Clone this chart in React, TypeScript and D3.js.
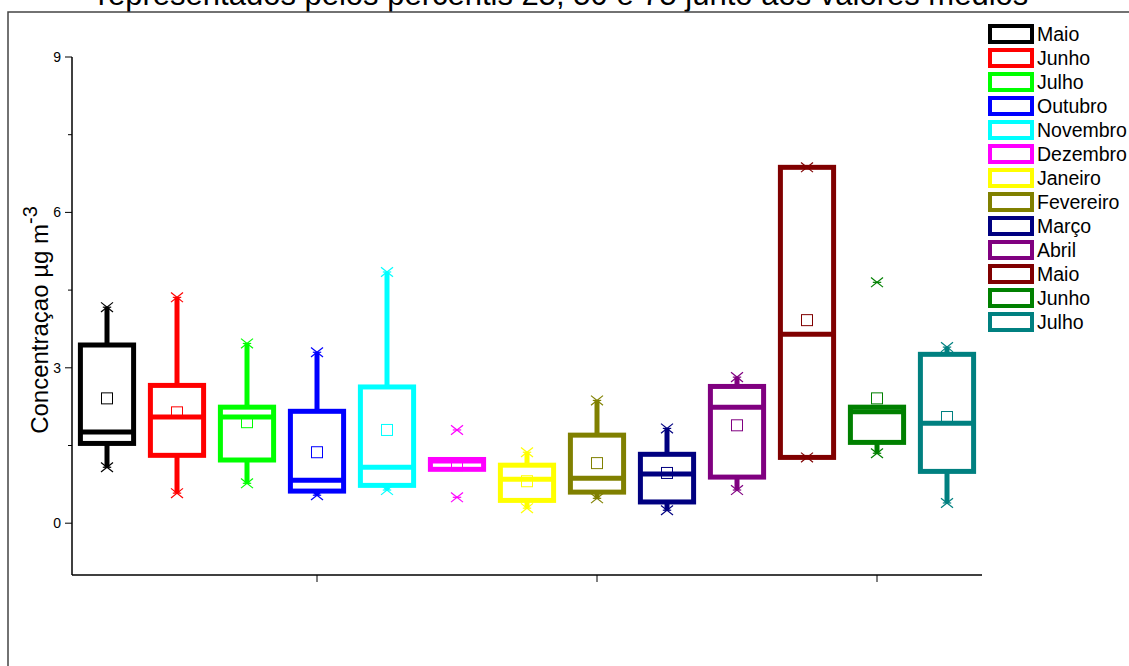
import * as d3 from "d3"

// monthly box data (µg m-3)
const months = ["Maio", "Junho", "Julho", "Outubro", "Novembro", "Dezembro", "Janeiro", "Fevereiro", "Março", "Abril", "Maio", "Junho", "Julho"]
const colors = ["#000000", "#FF0000", "#00FF00", "#0000FF", "#00FFFF", "#FF00FF", "#FFFF00", "#808000", "#000080", "#800080", "#800000", "#008000", "#008080"]
const q1 = [1.54, 1.31, 1.22, 0.62, 0.73, 1.04, 0.44, 0.6, 0.41, 0.89, 1.27, 1.56, 1.0]
const median = [1.76, 2.05, 2.05, 0.83, 1.08, 1.2, 0.85, 0.87, 0.95, 2.24, 3.65, 2.15, 1.93]
const q3 = [3.44, 2.66, 2.24, 2.16, 2.63, 1.23, 1.12, 1.7, 1.33, 2.64, 6.87, 2.24, 3.26]
const means = [2.41, 2.14, 1.95, 1.37, 1.8, 1.12, 0.81, 1.16, 0.97, 1.89, 3.92, 2.41, 2.05]
const whiskerHigh = [4.17, 4.36, 3.47, 3.3, 4.85, 1.23, 1.37, 2.37, 1.83, 2.82, 6.87, 2.24, 3.4]
const whiskerLow = [1.08, 0.58, 0.77, 0.54, 0.64, 1.04, 0.29, 0.48, 0.25, 0.64, 1.27, 1.35, 0.39]
const maxVals = [4.17, 4.36, 3.47, 3.3, 4.85, 1.8, 1.37, 2.37, 1.83, 2.82, 6.87, 4.65, 3.4]
const minVals = [1.08, 0.58, 0.77, 0.54, 0.64, 0.5, 0.29, 0.48, 0.25, 0.64, 1.27, 1.35, 0.39]
const yTicks = [0, 3, 6, 9]
const yMinorTicks = [1.5, 4.5, 7.5]
const xTicks = [4, 8, 12]

const title = "representados pelos percentis 25, 50 e 75 junto aos valores médios"
const FONT = "Arial, 'Liberation Sans', sans-serif"

function Star({ cx, cy, color }: { cx: number; cy: number; color: string }) {
  const s = 6
  return (
    <g stroke={color} strokeWidth={1.2}>
      <line x1={cx - s} y1={cy - s * 0.8} x2={cx + s} y2={cy + s * 0.8} />
      <line x1={cx - s} y1={cy + s * 0.8} x2={cx + s} y2={cy - s * 0.8} />
      <line x1={cx - s * 0.7} y1={cy} x2={cx + s * 0.7} y2={cy} />
    </g>
  )
}

export default function App() {
  const W = 1129
  const H = 666
  const x = d3.scaleLinear().domain([0.5, 13.5]).range([72, 982])
  const y = d3.scaleLinear().domain([-1, 9]).range([575, 57])
  const boxW = (x(1.76) - x(1)) // ~0.76 of a slot
  const lw = 5

  return (
    <svg width={W} height={H} style={{ position: "absolute", left: 0, top: 0, background: "#fff" }} fontFamily={FONT}>
      <rect x={0} y={0} width={W} height={H} fill="#fff" />
      {/* title is cropped at the top edge, as in the original export */}
      <text x={563} y={5} fontSize={31} textAnchor="middle" fill="#000">{title}</text>
      <rect x={8} y={12} width={W + 20} height={H + 20} fill="none" stroke="#444" strokeWidth={1.5} />

      {/* axes */}
      <line x1={x.range()[0]} x2={x.range()[0]} y1={y(9)} y2={y.range()[0]} stroke="#000" strokeWidth={1.5} />
      <line x1={x.range()[0]} x2={x.range()[1]} y1={y.range()[0]} y2={y.range()[0]} stroke="#000" strokeWidth={1.5} />
      {yTicks.map(t => (
        <g key={"yt" + t}>
          <line x1={x.range()[0] - 7} x2={x.range()[0]} y1={y(t)} y2={y(t)} stroke="#000" strokeWidth={1} />
          <text x={61} y={y(t)} dy="0.35em" textAnchor="end" fontSize={14}>{t}</text>
        </g>
      ))}
      {yMinorTicks.map(t => (
        <line key={"ym" + t} x1={x.range()[0] - 4} x2={x.range()[0]} y1={y(t)} y2={y(t)} stroke="#000" strokeWidth={1} />
      ))}
      {xTicks.map(t => (
        <line key={"xt" + t} x1={x(t)} x2={x(t)} y1={y.range()[0]} y2={y.range()[0] + 7} stroke="#000" strokeWidth={1} />
      ))}
      <text transform={`translate(48,${(y(-1) + y(9)) / 2 + 4}) rotate(-90)`} textAnchor="middle" fontSize={24}>
        Concentraçao µg m<tspan dy={-11} fontSize={20}>-3</tspan>
      </text>

      {/* boxes */}
      {months.map((m, i) => {
        const cx = x(i + 1)
        const c = colors[i]
        return (
          <g key={"b" + i}>
            {whiskerHigh[i] > q3[i] && (
              <line x1={cx} x2={cx} y1={y(q3[i])} y2={y(whiskerHigh[i])} stroke={c} strokeWidth={lw} />
            )}
            {whiskerLow[i] < q1[i] && (
              <line x1={cx} x2={cx} y1={y(q1[i])} y2={y(whiskerLow[i])} stroke={c} strokeWidth={lw} />
            )}
            <rect x={cx - boxW / 2} y={y(q3[i])} width={boxW} height={y(q1[i]) - y(q3[i])}
              fill="none" stroke={c} strokeWidth={lw} />
            <line x1={cx - boxW / 2} x2={cx + boxW / 2} y1={y(median[i])} y2={y(median[i])} stroke={c} strokeWidth={lw} />
            <rect x={cx - 5.5} y={y(means[i]) - 5.5} width={11} height={11} fill="none" stroke={c} strokeWidth={1} />
            <Star cx={cx} cy={y(maxVals[i])} color={c} />
            <Star cx={cx} cy={y(minVals[i])} color={c} />
          </g>
        )
      })}

      {/* legend */}
      {months.map((m, i) => (
        <g key={"l" + i} transform={`translate(990,${34 + 24 * i})`}>
          <rect x={0} y={-8} width={42} height={16} fill="#fff" stroke={colors[i]} strokeWidth={4} />
          <text x={47} y={7} fontSize={19.5}>{m}</text>
        </g>
      ))}
    </svg>
  )
}
